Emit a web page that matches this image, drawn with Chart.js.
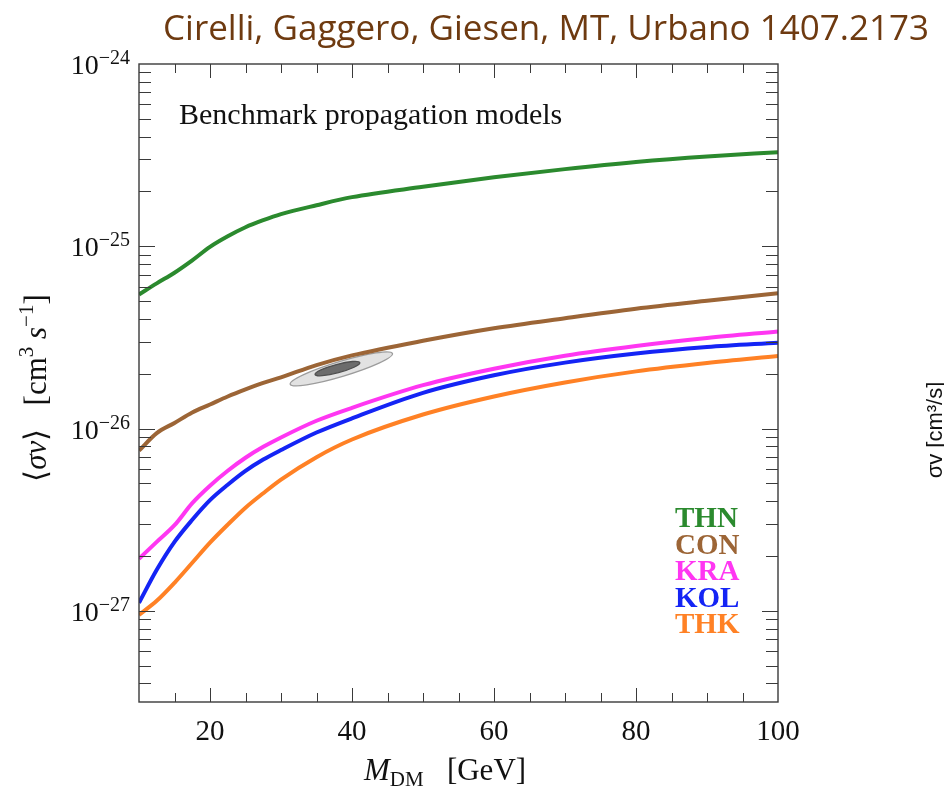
<!DOCTYPE html>
<html>
<head>
<meta charset="utf-8">
<script src="https://cdn.jsdelivr.net/npm/chart.js@4.4.1/dist/chart.umd.min.js"></script>
<style>
  html, body { margin: 0; padding: 0; background: #fff; }
</style>
</head>
<body>
<canvas id="sigmaChart" width="944" height="789"></canvas>
<script>
// dark matter mass grid [GeV]
const masses = [10, 12.5, 15, 17.5, 20, 22.5, 25, 27.5, 30, 35, 40, 50, 60, 70, 80, 90, 100];

// <sigma v> upper curves [cm^3 s^-1], one array per propagation model
const thn = [5.44e-26, 6.26e-26, 7.16e-26, 8.37e-26, 9.93e-26, 1.135e-25, 1.272e-25, 1.39e-25, 1.50e-25, 1.68e-25, 1.86e-25, 2.12e-25, 2.39e-25, 2.65e-25, 2.90e-25, 3.11e-25, 3.28e-25];
const con = [7.57e-27, 9.44e-27, 1.074e-26, 1.225e-26, 1.355e-26, 1.50e-26, 1.64e-26, 1.78e-26, 1.91e-26, 2.23e-26, 2.52e-26, 3.03e-26, 3.55e-26, 4.03e-26, 4.54e-26, 5.02e-26, 5.52e-26];
const kra = [1.93e-27, 2.39e-27, 2.95e-27, 3.90e-27, 4.86e-27, 5.87e-27, 6.92e-27, 7.94e-27, 8.94e-27, 1.104e-26, 1.30e-26, 1.73e-26, 2.13e-26, 2.51e-26, 2.84e-26, 3.14e-26, 3.41e-26];
const kol = [1.106e-27, 1.68e-27, 2.39e-27, 3.16e-27, 4.05e-27, 4.92e-27, 5.86e-27, 6.76e-27, 7.62e-27, 9.51e-27, 1.138e-26, 1.57e-26, 1.96e-26, 2.30e-26, 2.58e-26, 2.80e-26, 2.96e-26];
const thk = [9.5e-28, 1.135e-27, 1.426e-27, 1.836e-27, 2.366e-27, 2.97e-27, 3.68e-27, 4.42e-27, 5.25e-27, 6.97e-27, 8.71e-27, 1.194e-26, 1.50e-26, 1.79e-26, 2.06e-26, 2.29e-26, 2.50e-26];

const modelNames = ['THN', 'CON', 'KRA', 'KOL', 'THK'];
const modelSeries = [thn, con, kra, kol, thk];
const modelColors = ['#2b8a2e', '#9c6536', '#ff36f2', '#1424f5', '#ff8125'];

// GC excess fit region: ends of the long axis, [M, sigma v]
const fitOuter = [[31.3, 1.75e-26], [45.7, 2.58e-26]];
const fitInner = [[34.8, 1.98e-26], [41.1, 2.30e-26]];

// axis ticks
const xTickLabels = [20, 40, 60, 80, 100];
const yDecades = [-24, -25, -26, -27];

const SERIF = '"Liberation Serif", "Times New Roman", serif';

function ellipseFromEnds(ctx, xs, ys, ends, halfWidth, fill, stroke) {
  const x1 = xs.getPixelForValue(ends[0][0]), y1 = ys.getPixelForValue(ends[0][1]);
  const x2 = xs.getPixelForValue(ends[1][0]), y2 = ys.getPixelForValue(ends[1][1]);
  const len = Math.hypot(x2 - x1, y2 - y1);
  ctx.beginPath();
  ctx.ellipse((x1 + x2) / 2, (y1 + y2) / 2, len / 2, halfWidth, Math.atan2(y2 - y1, x2 - x1), 0, Math.PI * 2);
  ctx.fillStyle = fill;
  ctx.fill();
  ctx.lineWidth = 1.3;
  ctx.strokeStyle = stroke;
  ctx.stroke();
}

// draws text pieces one after another on the same baseline
function drawRun(ctx, parts, x, y) {
  let cx = x;
  parts.forEach(p => {
    ctx.font = p.font;
    ctx.fillText(p.text, cx, y + (p.dy || 0));
    cx += ctx.measureText(p.text).width;
  });
}
function runWidth(ctx, parts) {
  let w = 0;
  parts.forEach(p => { ctx.font = p.font; w += ctx.measureText(p.text).width; });
  return w;
}

const fitRegion = {
  id: 'fitRegion',
  beforeDatasetsDraw(chart) {
    const ctx = chart.ctx, xs = chart.scales.x, ys = chart.scales.y;
    ctx.save();
    ellipseFromEnds(ctx, xs, ys, fitOuter, 7.5, '#e2e2e2', '#9c9c9c');
    ellipseFromEnds(ctx, xs, ys, fitInner, 4.2, '#6c6c6c', '#505050');
    ctx.restore();
  }
};

// frame with inward ticks on all four sides, labels and annotations
const plotFrame = {
  id: 'plotFrame',
  afterDraw(chart) {
    const ctx = chart.ctx, a = chart.chartArea;
    const xs = chart.scales.x, ys = chart.scales.y;
    ctx.save();
    ctx.strokeStyle = '#3a3a3a';
    ctx.lineWidth = 1.4;
    ctx.strokeRect(a.left, a.top, a.right - a.left, a.bottom - a.top);

    ctx.lineWidth = 1;
    ctx.beginPath();
    for (let m = 15; m < 100; m += 5) {
      const px = Math.round(xs.getPixelForValue(m)) + 0.5;
      const len = xTickLabels.includes(m) ? 14 : 9;
      ctx.moveTo(px, a.bottom); ctx.lineTo(px, a.bottom - len);
      ctx.moveTo(px, a.top); ctx.lineTo(px, a.top + len);
    }
    for (let e = -28; e <= -25; e++) {
      for (let k = 1; k <= 9; k++) {
        const v = k * Math.pow(10, e);
        if (v <= ys.min || v >= ys.max) continue;
        const py = Math.round(ys.getPixelForValue(v)) + 0.5;
        const len = k === 1 ? 16 : 12;
        ctx.moveTo(a.left, py); ctx.lineTo(a.left + len, py);
        ctx.moveTo(a.right, py); ctx.lineTo(a.right - len, py);
      }
    }
    ctx.stroke();

    ctx.fillStyle = '#111';
    ctx.textBaseline = 'alphabetic';

    // x tick labels
    ctx.textAlign = 'center';
    ctx.font = '29px ' + SERIF;
    xTickLabels.forEach(m => ctx.fillText(String(m), xs.getPixelForValue(m), 740));

    // y tick labels 10^n
    ctx.textAlign = 'left';
    yDecades.forEach(e => {
      const py = ys.getPixelForValue(Math.pow(10, e));
      const parts = [
        { text: '10', font: '28px ' + SERIF, dy: 10 },
        { text: '\u2212' + Math.abs(e), font: '20px ' + SERIF, dy: 0 }
      ];
      drawRun(ctx, parts, 130 - runWidth(ctx, parts), py);
    });

    // x title
    drawRun(ctx, [
      { text: 'M', font: 'italic 31px ' + SERIF },
      { text: 'DM', font: '21px ' + SERIF, dy: 6 },
      { text: '   [GeV]', font: '31px ' + SERIF }
    ], 364, 780);

    // y title, rotated
    const yParts = [
      { text: '\u27E8', font: '31px ' + SERIF },
      { text: '\u03C3v', font: 'italic 31px ' + SERIF },
      { text: '\u27E9', font: '31px ' + SERIF },
      { text: '   [cm', font: '31px ' + SERIF },
      { text: '3', font: '21px ' + SERIF, dy: -13 },
      { text: ' ', font: '31px ' + SERIF },
      { text: 's', font: 'italic 31px ' + SERIF },
      { text: '\u22121', font: '21px ' + SERIF, dy: -13 },
      { text: ']', font: '31px ' + SERIF }
    ];
    ctx.save();
    ctx.translate(46, 388);
    ctx.rotate(-Math.PI / 2);
    drawRun(ctx, yParts, -runWidth(ctx, yParts) / 2, 0);
    ctx.restore();

    // inset caption
    ctx.font = '30px ' + SERIF;
    ctx.fillText('Benchmark propagation models', 179, 124);

    // model key
    ctx.font = 'bold 29px ' + SERIF;
    modelNames.forEach((name, i) => {
      ctx.fillStyle = modelColors[i];
      ctx.fillText(name, 675, 527 + i * 26.5);
    });

    // citation header
    const cite = 'Cirelli, Gaggero, Giesen, MT, Urbano 1407.2173';
    ctx.font = '34px "Open Sans", sans-serif';
    const size = 34 * 767 / ctx.measureText(cite).width;
    ctx.font = size.toFixed(1) + 'px "Open Sans", sans-serif';
    ctx.fillStyle = '#6e3a10';
    ctx.fillText(cite, 163, 40);

    // edge of the neighbouring panel's axis title
    ctx.save();
    ctx.fillStyle = '#111';
    ctx.font = '22px "Liberation Sans", Arial, sans-serif';
    ctx.translate(942, 430);
    ctx.rotate(-Math.PI / 2);
    ctx.textAlign = 'center';
    ctx.fillText('\u03C3v [cm\u00B3/s]', 0, 0);
    ctx.restore();

    ctx.restore();
  }
};

new Chart(document.getElementById('sigmaChart').getContext('2d'), {
  type: 'line',
  data: {
    datasets: modelNames.map((name, i) => ({
      label: name,
      data: masses.map((m, j) => ({ x: m, y: modelSeries[i][j] })),
      borderColor: modelColors[i],
      borderWidth: 4,
      pointRadius: 0,
      cubicInterpolationMode: 'monotone',
      fill: false
    }))
  },
  options: {
    responsive: false,
    animation: false,
    layout: { padding: { left: 139, right: 166, top: 64, bottom: 87 } },
    plugins: { legend: { display: false }, tooltip: { enabled: false } },
    scales: {
      x: { type: 'linear', min: 10, max: 100, display: false },
      y: { type: 'logarithmic', min: Math.pow(10, -27.5), max: 1e-24, display: false }
    }
  },
  plugins: [fitRegion, plotFrame]
});
</script>
</body>
</html>
